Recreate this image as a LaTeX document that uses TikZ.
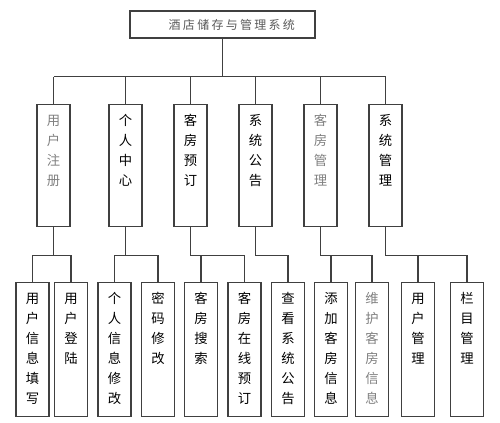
\documentclass[tikz,border=0pt]{standalone}
\usepackage{fontspec}
\newfontfamily\cjk{Noto Sans CJK SC}
% column of characters, pinned to the top of its box
\newcommand{\vlabel}[2]{\parbox[c][#1][t]{14pt}{\centering\rule{0pt}{15.5pt}#2}}
\tikzset{
  line/.style={draw=black!75, line width=0.8pt},
  titlebox/.style={line, rectangle, minimum width=138.75pt, minimum height=20.25pt, inner sep=0pt,
    font=\cjk\fontsize{9}{12}\selectfont, text=black!65},
  modbox/.style={line, rectangle, anchor=north, minimum width=24.75pt, inner sep=0pt,
    font=\cjk\fontsize{10}{15}\selectfont},
  faded/.style={text=black!50},
}
\begin{document}
\begin{tikzpicture}[x=0.75pt,y=-0.75pt]
\useasboundingbox (0,0) rectangle (500,423);

\node[titlebox] (root) at (222.5,24.5) {\hspace*{14pt}\addfontfeature{LetterSpace=19}酒店储存与管理系统};

% modules
\node[modbox, faded] (zc) at (53.5,104)  {\vlabel{91.5pt}{用\\户\\注\\册}};
\node[modbox] (gr) at (125.5,104) {\vlabel{91.5pt}{个\\人\\中\\心}};
\node[modbox] (yd) at (190.5,104) {\vlabel{91.5pt}{客\\房\\预\\订}};
\node[modbox] (gg) at (255.5,104) {\vlabel{91.5pt}{系\\统\\公\\告}};
\node[modbox, faded] (kf) at (320.5,104) {\vlabel{91.5pt}{客\\房\\管\\理}};
\node[modbox] (xt) at (385.5,104) {\vlabel{91.5pt}{系\\统\\管\\理}};

% functions
\node[modbox] (txxx) at (32.5,282)  {\vlabel{100.5pt}{用\\户\\信\\息\\填\\写}};
\node[modbox] (dl)   at (71,282)    {\vlabel{100.5pt}{用\\户\\登\\陆}};
\node[modbox] (grxx) at (114.5,282) {\vlabel{100.5pt}{个\\人\\信\\息\\修\\改}};
\node[modbox] (mm)   at (158,282)   {\vlabel{100.5pt}{密\\码\\修\\改}};
\node[modbox] (ss)   at (201,282)   {\vlabel{100.5pt}{客\\房\\搜\\索}};
\node[modbox] (zx)   at (244.5,282) {\vlabel{100.5pt}{客\\房\\在\\线\\预\\订}};
\node[modbox] (ck)   at (288,282)   {\vlabel{100.5pt}{查\\看\\系\\统\\公\\告}};
\node[modbox] (tj)   at (331,282)   {\vlabel{100.5pt}{添\\加\\客\\房\\信\\息}};
\node[modbox, faded] (wh) at (372,282) {\vlabel{100.5pt}{维\\护\\客\\房\\信\\息}};
\node[modbox] (yh)   at (418,282)   {\vlabel{100.5pt}{用\\户\\管\\理}};
\node[modbox] (lm)   at (467,282)   {\vlabel{100.5pt}{栏\\目\\管\\理}};

\draw[line] (root.south) -- ++(0,38) coordinate (bus);
\draw[line] (zc.north |- bus) -- (xt.north |- bus);
\foreach \m in {zc,gr,yd,gg,kf,xt}
  \draw[line] (\m.north) -- (\m.north |- bus);

\foreach \up/\dn in {zc/txxx, zc/dl, gr/grxx, gr/mm, yd/ss, yd/zx, gg/ck, kf/tj, kf/wh, xt/yh, xt/lm}
  \draw[line] (\up.south) -- ++(0,28) -| (\dn.north);
\end{tikzpicture}
\end{document}
